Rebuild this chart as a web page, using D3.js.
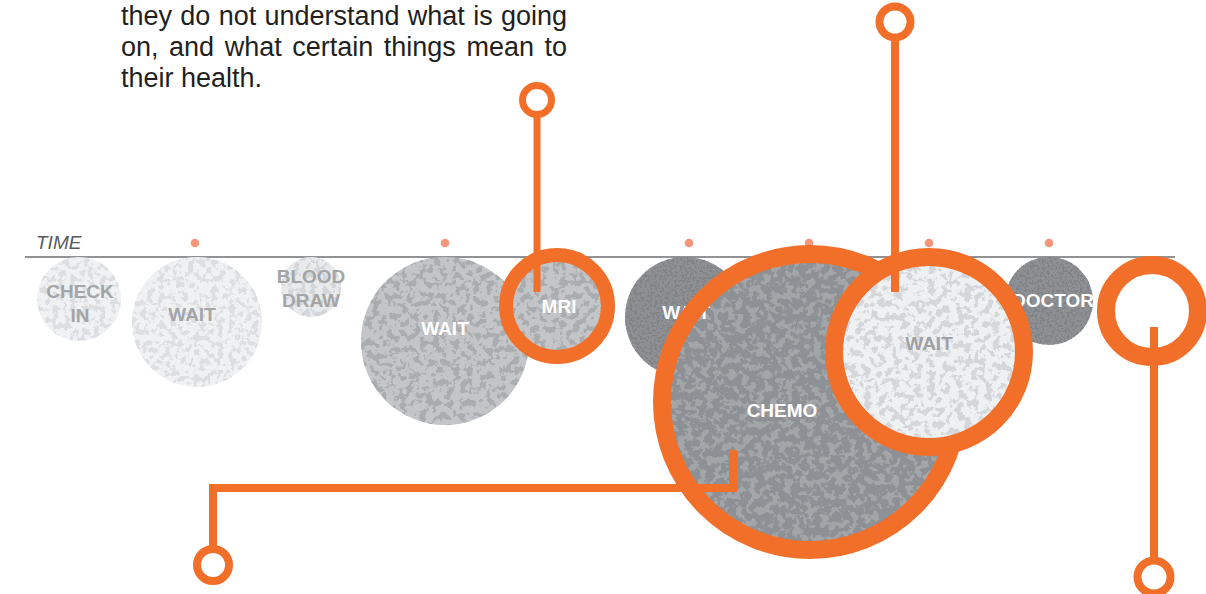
<!DOCTYPE html>
<html><head><meta charset="utf-8">
<script src="https://cdn.jsdelivr.net/npm/d3@7"></script>
<style>html,body{margin:0;padding:0;background:#fff;overflow:hidden}</style>
</head><body><svg id="c" width="1206" height="594"></svg>
<script>
// ---------- data ----------
const introLines = ["they do not understand what is going", "on, and what certain things mean to", "their health."];
const tickMinutes = [85, 210, 332, 392, 452, 512];
const stepNames = [["CHECK","IN"],["WAIT"],["BLOOD","DRAW"],["WAIT"],["MRI"],["WAIT"],["CHEMO"],["WAIT"],["DOCTOR"],[]];
const stepCenters = [27, 86, 143, 210, 266, 330, 392.5, 452, 512, 563.5];   // minutes
const stepDurations = [21, 32.5, 15, 42, 25.5, 30, 74, 47.5, 22, 23];        // minutes (radius)
const stepTones = ["light","light","pale","mid","mid","dark","chemo","light2","dark","none"];
const highlighted = [4, 6, 7, 9];

// ---------- layout ----------
const W = 1206, H = 594, lineY = 257;
const ringWidth = {4: 14, 6: 18, 7: 18, 9: 18};
const drop = [0,0,0,0,-2,0,-3,0,0,8];
const labelNudge = [[1,4],[-5,-7.5],[0,1],[0,-13],[2,0],[1,-5],[-28,8],[0,-9],[4,-1],[0,0]];
// draw order: [kind, step index]
const drawOrder = [
  ["c",0],["c",1],["c",2],["c",3],["c",4],["c",5],["c",6],
  ["l",0],["l",1],["l",2],["l",3],["l",4],["l",5],["l",6],
  ["r",4],["r",6],["c",8],["l",8],["c",7],["l",7],["r",7],["r",9]
];
const tones = {
  light:  {base:"#f0f1f3", blob:"#dcdee1", freq:0.17, label:"#a4a5a7"},
  pale:   {base:"#e9eaec", blob:"#d3d5d8", freq:0.18, label:"#a4a5a7"},
  mid:    {base:"#c3c5c8", blob:"#aaadb0", freq:0.15, label:"#ffffff"},
  dark:   {base:"#8e9093", blob:"#818386", freq:0.4, label:"#ffffff"},
  chemo:  {base:"#8d9094", blob:"#a3a6a9", freq:0.14, label:"#ffffff"},
  light2: {base:"#eef0f2", blob:"#d4d6d9", freq:0.14, label:"#a0a1a3"},
  none:   {base:"none", blob:"none", freq:0.1, label:"#fff"}
};
const orange = "#f26f2a";
const pins = [
  {pts: [[256, 292],[256, 117]], head:[256, 100], r:14.5, w:7},
  {pts: [[435, 292],[435, 41]], head:[435, 22], r:15.5, w:8},
  {pts: [[354, 450],[354, 488],[94, 488],[94, 546]], head:[94, 565], r:16, w:8},
  {pts: [[564.5, 327],[564.5, 561]], head:[564.5, 577], r:16.5, w:8}
];

const svg = d3.select("#c");
const x = d3.scaleLinear().domain([0, 575]).range([25, 1175]);
const size = d3.scaleLinear().domain([0, 575]).range([0, 1150]);

// ---------- textures ----------
const defs = svg.append("defs");
Object.entries(tones).forEach(([k, t], i) => {
  if (t.base === "none") return;
  const f = defs.append("filter").attr("id", "tex-" + k)
    .attr("x", "0%").attr("y", "0%").attr("width", "100%").attr("height", "100%")
    .attr("color-interpolation-filters", "sRGB");
  f.append("feTurbulence").attr("type", "fractalNoise").attr("baseFrequency", t.freq)
    .attr("numOctaves", 3).attr("seed", 3 + i).attr("result", "n");
  f.append("feColorMatrix").attr("in", "n").attr("type", "matrix")
    .attr("values", "0 0 0 0 0  0 0 0 0 0  0 0 0 0 0  14 0 0 0 -7.1").attr("result", "mask");
  f.append("feFlood").attr("flood-color", t.blob).attr("result", "col");
  f.append("feComposite").attr("in", "col").attr("in2", "mask").attr("operator", "in").attr("result", "blobs");
  f.append("feComposite").attr("in", "blobs").attr("in2", "SourceGraphic").attr("operator", "in").attr("result", "clip");
  const m = f.append("feMerge");
  m.append("feMergeNode").attr("in", "SourceGraphic");
  m.append("feMergeNode").attr("in", "clip");
});

// ---------- intro paragraph ----------
const para = svg.append("g").attr("font-family", "'Liberation Sans', Arial, sans-serif")
  .attr("font-size", 27).attr("fill", "#231f20");
const paraLeft = 121, paraWidth = 446;
introLines.forEach((ln, i) => {
  const t = para.append("text").attr("x", paraLeft).attr("y", 25 + i * 31).text(ln);
  if (i < introLines.length - 1) {
    const w = t.node().getComputedTextLength();
    const gaps = ln.split(" ").length - 1;
    t.attr("word-spacing", (paraWidth - w) / gaps);
  }
});

// ---------- timeline ----------
svg.append("line").attr("x1", x(0)).attr("x2", x(575)).attr("y1", lineY).attr("y2", lineY)
  .attr("stroke", "#6d6e70").attr("stroke-width", 1.5);
svg.append("text").attr("x", 36).attr("y", 249).text("TIME")
  .attr("font-family", "'Liberation Sans', Arial, sans-serif").attr("font-style", "italic")
  .attr("font-size", 19).attr("fill", "#58595b");
svg.append("g").selectAll("circle").data(tickMinutes).join("circle")
  .attr("cx", d => x(d)).attr("cy", 243).attr("r", 4.3).attr("fill", "#f5957a");

// ---------- steps ----------
const steps = stepCenters.map((c, i) => {
  const r = size(stepDurations[i]);
  return {i, names: stepNames[i], cx: x(c), r, cy: lineY + r + drop[i], tone: tones[stepTones[i]], toneKey: stepTones[i]};
});
const sg = svg.append("g").attr("font-family", "'Liberation Sans', Arial, sans-serif")
  .attr("font-weight", "bold").attr("font-size", 19).attr("text-anchor", "middle");
drawOrder.forEach(([kind, idx]) => {
  const d = steps[idx];
  if (kind === "c") {
    sg.append("circle").datum(d).attr("cx", d.cx).attr("cy", d.cy).attr("r", d.r)
      .attr("fill", d.tone.base).attr("filter", `url(#tex-${d.toneKey})`);
  } else if (kind === "l") {
    const n = d.names.length;
    d.names.forEach((nm, j) => {
      sg.append("text").attr("x", d.cx + labelNudge[idx][0])
        .attr("y", d.cy + labelNudge[idx][1] + (j - (n - 1) / 2) * 24 + 6.8)
        .attr("fill", d.tone.label).text(nm);
    });
  } else if (kind === "r" && highlighted.includes(idx)) {
    sg.append("circle").datum(d).attr("cx", d.cx).attr("cy", d.cy).attr("r", d.r)
      .attr("fill", "none").attr("stroke", orange).attr("stroke-width", ringWidth[idx]);
  }
});

// ---------- callout pins ----------
const pg = svg.append("g");
pins.forEach(p => {
  pg.append("path").attr("d", d3.line().x(q => x(q[0])).y(q => q[1])(p.pts))
    .attr("fill", "none").attr("stroke", orange).attr("stroke-width", p.w)
    .attr("stroke-linejoin", "miter").attr("stroke-linecap", "butt");
  pg.append("circle").attr("cx", x(p.head[0])).attr("cy", p.head[1]).attr("r", p.r)
    .attr("fill", "#fff").attr("stroke", orange).attr("stroke-width", p.w);
});
</script></body></html>
